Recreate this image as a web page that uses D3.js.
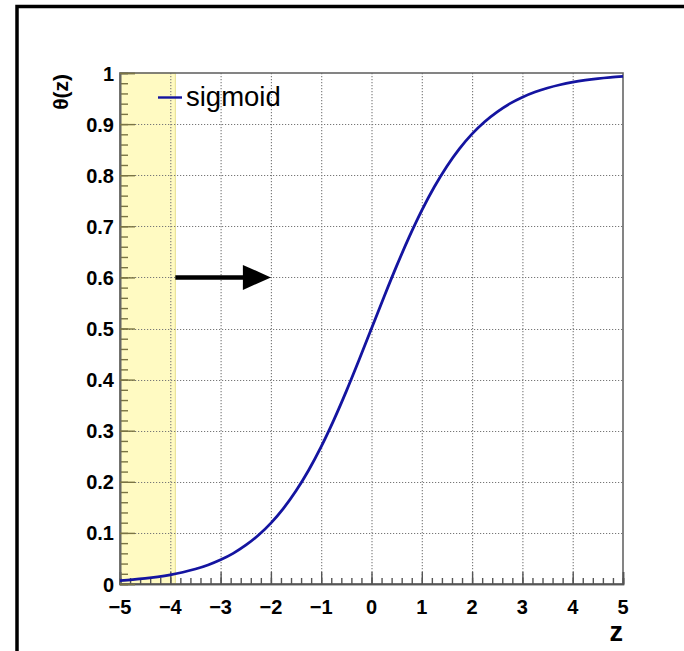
<!DOCTYPE html>
<html>
<head>
<meta charset="utf-8">
<script src="https://cdn.jsdelivr.net/npm/d3@7"></script>
<style>
  html, body { margin: 0; padding: 0; background: #fff; }
  svg { display: block; }
  text { font-family: "Liberation Sans", Arial, Helvetica, sans-serif; }
</style>
</head>
<body>
<svg id="chart" width="684" height="651"></svg>
<script>
// Sigmoid curve samples theta(z), z in steps of 0.25
const zValues = [-5, -4.75, -4.5, -4.25, -4, -3.75, -3.5, -3.25, -3, -2.75, -2.5, -2.25, -2, -1.75, -1.5, -1.25, -1, -0.75, -0.5, -0.25,
                 0, 0.25, 0.5, 0.75, 1, 1.25, 1.5, 1.75, 2, 2.25, 2.5, 2.75, 3, 3.25, 3.5, 3.75, 4, 4.25, 4.5, 4.75, 5];
const thetaValues = [0.0067, 0.0086, 0.0110, 0.0141, 0.0180, 0.0230, 0.0293, 0.0373, 0.0474, 0.0600, 0.0759, 0.0953, 0.1192, 0.1480, 0.1824, 0.2227, 0.2689, 0.3208, 0.3775, 0.4378,
                     0.5000, 0.5622, 0.6225, 0.6792, 0.7311, 0.7773, 0.8176, 0.8520, 0.8808, 0.9047, 0.9241, 0.9400, 0.9526, 0.9627, 0.9707, 0.9770, 0.9820, 0.9859, 0.9890, 0.9914, 0.9933];

const xTicks = [-5, -4, -3, -2, -1, 0, 1, 2, 3, 4, 5];
const xTickLabels = ["\u22125", "\u22124", "\u22123", "\u22122", "\u22121", "0", "1", "2", "3", "4", "5"];
const yTicks = [0, 0.1, 0.2, 0.3, 0.4, 0.5, 0.6, 0.7, 0.8, 0.9, 1];
const yTickLabels = ["0", "0.1", "0.2", "0.3", "0.4", "0.5", "0.6", "0.7", "0.8", "0.9", "1"];

// Highlighted region and arrow
const bandRange = [-5, -3.9];
const arrowFrom = [-3.9, 0.6];
const arrowTo = [-2, 0.6];

const seriesName = "sigmoid";
const xTitle = "z";
const yTitle = "\u03b8(z)";

const svg = d3.select("#chart");
const plotLeft = 120, plotRight = 623, plotTop = 73, plotBottom = 584;

const x = d3.scaleLinear().domain([-5, 5]).range([plotLeft, plotRight]);
const y = d3.scaleLinear().domain([0, 1]).range([plotBottom, plotTop]);

// Outer canvas border
svg.append("rect")
  .attr("x", 17).attr("y", 6.5)
  .attr("width", 760).attr("height", 760)
  .attr("fill", "none").attr("stroke", "#000").attr("stroke-width", 3.5);

// Shaded band
svg.append("rect")
  .attr("x", x(bandRange[0])).attr("y", y(1))
  .attr("width", x(bandRange[1]) - x(bandRange[0]))
  .attr("height", y(0) - y(1))
  .attr("fill", "#fffac2")
  .attr("stroke", "#e6de8c").attr("stroke-width", 1);

// Dotted grid
const grid = svg.append("g").attr("stroke", "#777").attr("stroke-width", 1.1).attr("stroke-dasharray", "1.2,1.8");
grid.selectAll("line.v").data(xTicks.slice(1, -1)).join("line").attr("class", "v")
  .attr("x1", d => x(d) + 0.5).attr("x2", d => x(d) + 0.5)
  .attr("y1", y(1)).attr("y2", y(0));
grid.selectAll("line.h").data(yTicks.slice(1, -1)).join("line").attr("class", "h")
  .attr("y1", d => Math.round(y(d)) + 0.5).attr("y2", d => Math.round(y(d)) + 0.5)
  .attr("x1", x(-5)).attr("x2", x(5));

// Frame
svg.append("rect")
  .attr("x", plotLeft).attr("y", plotTop)
  .attr("width", plotRight - plotLeft).attr("height", plotBottom - plotTop)
  .attr("fill", "none").attr("stroke", "#666").attr("stroke-width", 1.6);

// X axis: ticks drawn inward
const xAxis = d3.axisBottom(x).tickValues(xTicks).tickSize(-12).tickFormat("");
const xMinor = d3.axisBottom(x).tickValues(d3.range(-50, 51, 2).map(v => v / 10)).tickSize(-6).tickFormat("");
const gxm = svg.append("g").attr("transform", `translate(0,${plotBottom})`).call(xMinor);
const gx = svg.append("g").attr("transform", `translate(0,${plotBottom})`).call(xAxis);
[gx, gxm].forEach(g => {
  g.select(".domain").attr("stroke", "#555").attr("stroke-width", 1.6);
  g.selectAll(".tick line").attr("stroke", "#555").attr("stroke-width", 1.4);
});
svg.append("g").selectAll("text").data(xTicks).join("text")
  .attr("x", d => x(d)).attr("y", 614)
  .attr("text-anchor", "middle")
  .attr("font-size", 20).attr("font-weight", "bold")
  .text((d, i) => xTickLabels[i]);

// Y axis: ticks drawn inward
const yAxis = d3.axisLeft(y).tickValues(yTicks).tickSize(-15).tickFormat("");
const yMinor = d3.axisLeft(y).tickValues(d3.range(0, 101, 2).map(v => v / 100)).tickSize(-8).tickFormat("");
const gym = svg.append("g").attr("transform", `translate(${plotLeft},0)`).call(yMinor);
const gy = svg.append("g").attr("transform", `translate(${plotLeft},0)`).call(yAxis);
[gy, gym].forEach(g => {
  g.select(".domain").attr("stroke", "#666").attr("stroke-width", 1.6);
  g.selectAll(".tick line").attr("stroke", "#7a7444").attr("stroke-width", 1.4);
});
svg.append("g").selectAll("text").data(yTicks).join("text")
  .attr("x", 114).attr("y", d => y(d) + 7.5)
  .attr("text-anchor", "end")
  .attr("font-size", 20).attr("font-weight", "bold")
  .text((d, i) => yTickLabels[i]);

// Axis titles
svg.append("text")
  .attr("transform", `translate(68,${plotTop + 1}) rotate(-90)`)
  .attr("text-anchor", "end")
  .attr("font-size", 21).attr("font-weight", "bold")
  .text(yTitle);
svg.append("text")
  .attr("x", plotRight).attr("y", 641)
  .attr("text-anchor", "end")
  .attr("font-size", 27).attr("font-weight", "bold")
  .text(xTitle);

// Sigmoid curve
const pts = zValues.map((z, i) => [z, thetaValues[i]]);
svg.append("path")
  .datum(pts)
  .attr("fill", "none")
  .attr("stroke", "#1414a0")
  .attr("stroke-width", 2.8)
  .attr("stroke-linejoin", "round")
  .attr("d", d3.line().x(d => x(d[0])).y(d => y(d[1])).curve(d3.curveMonotoneX));

// Arrow
const ax1 = x(arrowFrom[0]), ay = y(arrowFrom[1]), ax2 = x(arrowTo[0]);
svg.append("line")
  .attr("x1", ax1).attr("x2", ax2 - 20)
  .attr("y1", ay).attr("y2", ay)
  .attr("stroke", "#000").attr("stroke-width", 4.5);
svg.append("path")
  .attr("d", `M${ax2},${ay} L${ax2 - 28},${ay - 12.5} L${ax2 - 28},${ay + 12.5} Z`)
  .attr("fill", "#000");

// Legend
svg.append("line")
  .attr("x1", 158).attr("x2", 182).attr("y1", 97.5).attr("y2", 97.5)
  .attr("stroke", "#1414a0").attr("stroke-width", 2.4);
svg.append("text")
  .attr("x", 186).attr("y", 106)
  .attr("font-size", 27.5)
  .text(seriesName);
</script>
</body>
</html>
